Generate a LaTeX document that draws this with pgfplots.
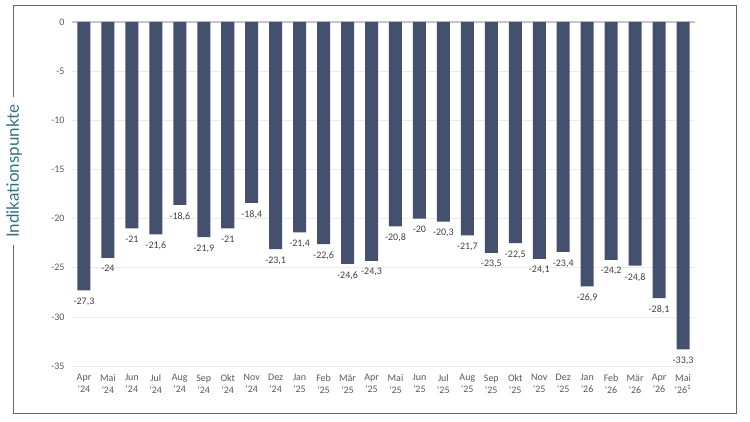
\documentclass[border=0pt]{standalone}
\usepackage{pgfplots}
\pgfplotsset{compat=1.18}
\usepackage{fontspec}
\setmainfont{Carlito}
\newfontfamily\labelfont{Lato}
\definecolor{bar}{RGB}{68,80,110}
\definecolor{frame}{RGB}{90,105,115}
\definecolor{teal}{RGB}{50,115,130}
\definecolor{tick}{RGB}{89,89,89}
\definecolor{lab}{RGB}{64,64,64}
\newcommand{\q}{\textquotesingle}
\begin{document}
\begin{tikzpicture}[x=1pt,y=1pt]
\path (-72,-56) rectangle (678,366);
\begin{axis}[
  at={(0,0)}, anchor=south west,
  scale only axis, width=623pt, height=344pt,
  ybar, bar width=13pt,
  xmin=-0.5, xmax=25.5, ymin=-35, ymax=0,
  ytick={0,-5,-10,-15,-20,-25,-30,-35},
  xtick=data,
  xticklabels={Apr\\\q24,Mai\\\q24,Jun\\\q24,Jul\\\q24,Aug\\\q24,Sep\\\q24,Okt\\\q24,Nov\\\q24,Dez\\\q24,
    Jan\\\q25,Feb\\\q25,Mär\\\q25,Apr\\\q25,Mai\\\q25,Jun\\\q25,Jul\\\q25,Aug\\\q25,Sep\\\q25,Okt\\\q25,Nov\\\q25,Dez\\\q25,
    Jan\\\q26,Feb\\\q26,Mär\\\q26,Apr\\\q26,Mai\\\q26\textsuperscript{1}},
  xticklabel style={align=center, font=\fontsize{10}{12}\selectfont, text=tick, yshift=-5pt},
  yticklabel style={font=\fontsize{10}{12}\selectfont, text=tick, xshift=-4pt},
  /pgf/number format/assume math mode=true,
  /pgf/number format/.cd, use comma, fixed, precision=1, /pgfplots/.cd,
  axis line style={draw=none},
  major tick length=0pt,
  ymajorgrids, grid style={draw=black!8, line width=0.6pt},
  extra y ticks={0}, extra y tick labels={},
  extra y tick style={grid style={draw=black!22, line width=1.2pt}},
  nodes near coords,
  every node near coord/.append style={font=\fontsize{10}{12}\selectfont, text=lab, anchor=north, yshift=-4pt},
  clip=false,
]
\addplot[fill=bar, draw=none] coordinates {
(0,-27.3) (1,-24) (2,-21) (3,-21.6) (4,-18.6) (5,-21.9) (6,-21) (7,-18.4) (8,-23.1)
(9,-21.4) (10,-22.6) (11,-24.6) (12,-24.3) (13,-20.8) (14,-20) (15,-20.3) (16,-21.7)
(17,-23.5) (18,-22.5) (19,-24.1) (20,-23.4) (21,-26.9) (22,-24.2) (23,-24.8) (24,-28.1) (25,-33.3)
};
\end{axis}
\draw[frame, line width=1pt] (-58,121) -- (-58,-48) -- (664,-48) -- (664,360) -- (-58,360) -- (-58,269);
\node[rotate=90, text=teal, font=\labelfont\fontsize{17}{20}\selectfont] at (-58,195) {Indikationspunkte};
\end{tikzpicture}
\end{document}
